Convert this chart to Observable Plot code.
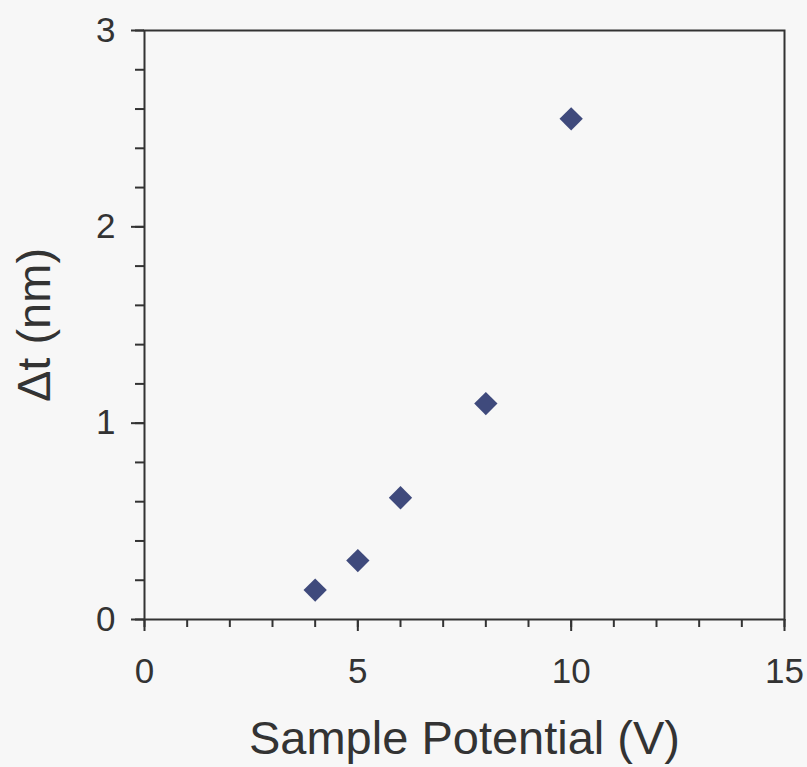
<!DOCTYPE html>
<html>
<head>
<meta charset="utf-8">
<script src="https://cdn.jsdelivr.net/npm/d3@7"></script>
<script src="https://cdn.jsdelivr.net/npm/@observablehq/plot@0.6"></script>
<style>
  html, body { margin: 0; padding: 0; background: #f7f7f7; }
  #chart { width: 807px; height: 767px; }
</style>
</head>
<body>
<div id="chart"></div>
<script>
const voltage = [4, 5, 6, 8, 10];
const deltaT = [0.15, 0.30, 0.62, 1.10, 2.55];
const xMajorTicks = [0, 5, 10, 15];
const xMinorTicks = [0, 1, 2, 3, 4, 5, 6, 7, 8, 9, 10, 11, 12, 13, 14, 15];
const yMajorTicks = [0, 1, 2, 3];
const yMinorTicks = [0, 0.2, 0.4, 0.6, 0.8, 1, 1.2, 1.4, 1.6, 1.8, 2, 2.2, 2.4, 2.6, 2.8, 3];
const xLabel = ["Sample Potential (V)"];
const yLabel = ["\u0394t (nm)"];

const points = voltage.map((v, i) => ({x: v, y: deltaT[i]}));
const ink = "#333333";

const chart = Plot.plot({
  width: 807,
  height: 767,
  marginLeft: 144,
  marginRight: 23,
  marginTop: 30,
  marginBottom: 148,
  x: {domain: [0, 15]},
  y: {domain: [0, 3]},
  style: {background: "#f7f7f7", fontFamily: "'Liberation Sans', Arial, sans-serif", color: ink},
  marks: [
    Plot.axisX(xMinorTicks, {tickSize: 8, tickFormat: () => "", label: null, stroke: ink, strokeWidth: 2}),
    Plot.axisX(xMajorTicks, {tickSize: 12, tickPadding: 27, fontSize: 35, label: null, stroke: ink, strokeWidth: 2, tickFormat: d => String(d)}),
    Plot.axisY(yMinorTicks, {tickSize: 9, tickFormat: () => "", label: null, stroke: ink, strokeWidth: 2}),
    Plot.axisY(yMajorTicks, {tickSize: 13, tickPadding: 16, fontSize: 35, label: null, stroke: ink, strokeWidth: 2, tickFormat: d => String(d)}),
    Plot.frame({stroke: ink, strokeWidth: 2}),
    Plot.dot(points, {x: "x", y: "y", symbol: "diamond2", r: 10.5, fill: "#3f4a7c", stroke: "none"}),
    Plot.text(xLabel, {frameAnchor: "bottom", text: d => d, dy: 119, fontSize: 47, fill: ink, textAnchor: "middle", lineAnchor: "middle"}),
    Plot.text(yLabel, {frameAnchor: "left", text: d => d, dx: -110, rotate: -90, fontSize: 47, fill: ink, textAnchor: "middle", lineAnchor: "middle"})
  ]
});
document.getElementById("chart").appendChild(chart);
</script>
</body>
</html>
